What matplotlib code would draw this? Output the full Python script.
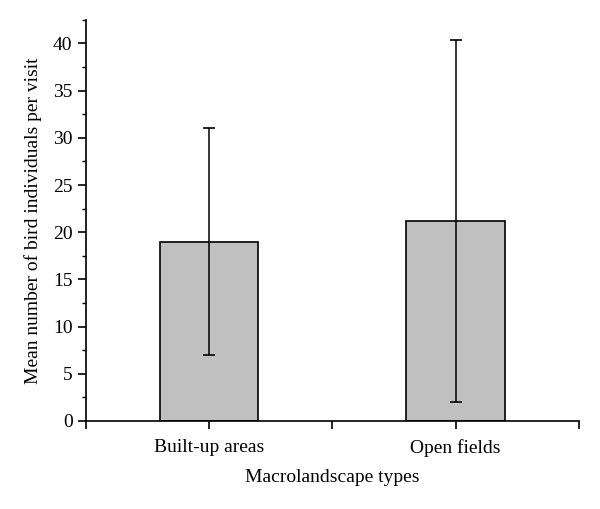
import numpy as np
import matplotlib.pyplot as plt
from matplotlib.ticker import MultipleLocator

categories = ["Built-up areas", "Open fields"]
means = [19.0, 21.2]
errors = [12.0, 19.2]

plt.rcParams['font.family'] = ['Liberation Serif', 'DejaVu Serif']

fig = plt.figure(figsize=(6, 5.09), dpi=100)
ax = fig.add_axes([0.143, 0.173, 0.822, 0.788])

x = np.array([1, 3])
ax.bar(x, means, width=0.8, color='#c0c0c0', edgecolor='black', linewidth=1.2, zorder=2)
ax.errorbar(x, means, yerr=errors, fmt='none', ecolor='black', elinewidth=1.1,
            capsize=4, capthick=1.2, zorder=3)

ax.set_xlim(0, 4)
ax.set_ylim(0, 42.5)
ax.set_xticks([0, 1, 2, 3, 4])
ax.set_xticklabels(["", categories[0], "", categories[1], ""])
ax.yaxis.set_major_locator(MultipleLocator(5))
ax.yaxis.set_minor_locator(MultipleLocator(2.5))

ax.spines['top'].set_visible(False)
ax.spines['right'].set_visible(False)
for s in ('left', 'bottom'):
    ax.spines[s].set_linewidth(1.2)
ax.tick_params(axis='both', which='major', direction='out', length=6, width=1.2, labelsize=14)
ax.tick_params(axis='x', which='major', pad=7)
ax.tick_params(axis='y', which='minor', direction='out', length=3, width=1.0)

ax.set_xlabel("Macrolandscape types", fontsize=14, labelpad=9)
ax.set_ylabel("Mean number of bird individuals per visit", fontsize=14, labelpad=8)

fig.savefig("out.png", dpi=100)
